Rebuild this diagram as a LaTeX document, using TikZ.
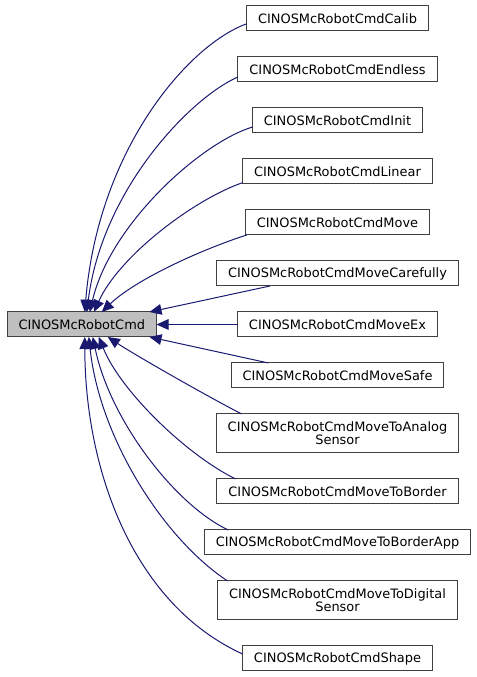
\documentclass[tikz,border=0pt]{standalone}
\usepackage[dvipsnames]{xcolor}
\usepackage{fontspec}
\setmainfont{DejaVu Sans}
\usepackage{tikz}
\usetikzlibrary{positioning,arrows.meta}
\definecolor{edgeblue}{HTML}{191970}
\tikzstyle{cls}     = [rectangle, draw=black!75, line width=0.75pt, fill=white,
                       text=black, minimum height=18.75pt, inner xsep=8.6pt,
                       inner ysep=0pt, outer sep=0pt, font=\fontsize{9.7}{10}\selectfont]
\tikzstyle{basecls} = [cls, fill=black!25]
\tikzstyle{cls2}    = [cls, align=center, minimum height=29.25pt]
\tikzstyle{inh}     = [draw, -{Triangle[length=9pt,width=8pt]}, edgeblue, line width=0.75pt]

\begin{document}
\begin{tikzpicture}[x=0.75pt, y=0.75pt]
		\useasboundingbox (0,0) rectangle (477,677);

		\node[cls] (calib) at (337.5,658.5) {CINOSMcRobotCmdCalib};
		\node[cls, below=19.5pt of calib] (endless) {CINOSMcRobotCmdEndless};
		\node[cls, below=19.5pt of endless] (init) {CINOSMcRobotCmdInit};
		\node[cls, below=19.5pt of init] (linear) {CINOSMcRobotCmdLinear};
		\node[cls, below=19.5pt of linear] (move) {CINOSMcRobotCmdMove};
		\node[cls, below=19.5pt of move] (carefully) {CINOSMcRobotCmdMoveCarefully};
		\node[cls, below=19.5pt of carefully] (moveex) {CINOSMcRobotCmdMoveEx};
		\node[cls, below=19.5pt of moveex] (movesafe) {CINOSMcRobotCmdMoveSafe};
		\node[cls2, below=19.5pt of movesafe] (analog) {CINOSMcRobotCmdMoveToAnalog\\Sensor};
		\node[cls, below=19.5pt of analog] (border) {CINOSMcRobotCmdMoveToBorder};
		\node[cls, below=19.5pt of border] (borderapp) {CINOSMcRobotCmdMoveToBorderApp};
		\node[cls2, below=19.5pt of borderapp] (digital) {CINOSMcRobotCmdMoveToDigital\\Sensor};
		\node[cls, below=19.5pt of digital] (shape) {CINOSMcRobotCmdShape};

		\node[basecls, left=60.75pt of moveex] (base) {CINOSMcRobotCmd};

		% children above the base
		\draw[inh] ([yshift=-4pt]calib.west) .. controls (188,632) and (98,527) .. ([xshift=2.25pt]base.north);
		\draw[inh] ([yshift=-5.6pt]endless.west) .. controls (190,579) and (102,487) .. ([xshift=3.75pt]base.north);
		\draw[inh] ([yshift=-4.9pt]init.west) .. controls (200,534) and (110,452) .. ([xshift=6pt]base.north);
		\draw[inh] ([yshift=1pt]linear.south west) .. controls (195,478) and (120,422) .. ([xshift=9pt]base.north);
		\draw[inh] ([xshift=1pt]move.south west) .. controls (200,427) and (135,397) .. ([xshift=15pt]base.north);
		\draw[inh] ([xshift=40pt]carefully.south west) -- ([xshift=-5.25pt]base.north east);
		\draw[inh] (moveex) -- (base);
		\draw[inh] ([xshift=28pt]movesafe.north west) -- ([xshift=-5.25pt]base.south east);

		% children below the base
		\draw[inh] ([xshift=19pt]analog.north west) .. controls (205,282) and (135,322) .. ([xshift=19.5pt]base.south);
		\draw[inh] ([xshift=14pt]border.north west) .. controls (185,223) and (120,287) .. ([xshift=12.75pt]base.south);
		\draw[inh] ([xshift=18pt]borderapp.north west) .. controls (175,172) and (110,257) .. ([xshift=8.25pt]base.south);
		\draw[inh] ([xshift=7.5pt]digital.north west) .. controls (165,137) and (100,237) .. ([xshift=5.25pt]base.south);
		\draw[inh] ([yshift=3.4pt]shape.west) .. controls (133,73) and (85,207) .. ([xshift=2.25pt]base.south);
	\end{tikzpicture}
\end{document}
